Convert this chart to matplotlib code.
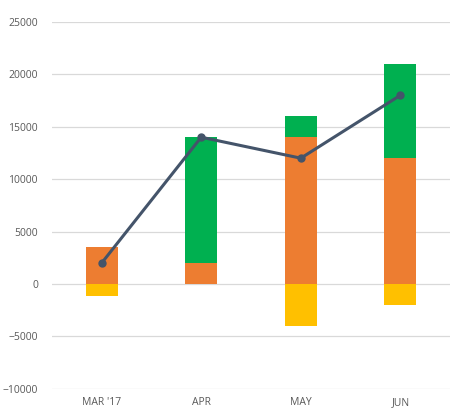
import matplotlib.pyplot as plt
import numpy as np

# data
months = ["MAR '17", "APR", "MAY", "JUN"]
base_pos = [3500, 2000, 14000, 12000]     # orange
extra_pos = [0, 12000, 2000, 9000]        # green, stacked on orange
negative = [-1100, 0, -4000, -2000]       # yellow
net = [2000, 14000, 12000, 18000]         # line

plt.rcParams['font.family'] = ['Open Sans', 'DejaVu Sans']

fig = plt.figure(figsize=(4.67, 4.12), dpi=100)
ax = fig.add_axes([0.111, 0.056, 0.853, 0.891])

x = np.arange(len(months))
w = 0.32
ax.bar(x, base_pos, w, color='#ED7D31', zorder=2)
ax.bar(x, extra_pos, w, bottom=base_pos, color='#00B050', zorder=2)
ax.bar(x, negative, w, color='#FFC000', zorder=2)
ax.plot(x, net, color='#44546A', linewidth=2.2, marker='o', markersize=5, zorder=3)

ax.set_xlim(-0.5, len(months) - 0.5)
ax.set_ylim(-10000, 25000)
ax.set_yticks(range(-10000, 25001, 5000))
ax.set_xticks(x)
ax.set_xticklabels(months)
ax.grid(axis='y', color='#D9D9D9', linewidth=0.9, zorder=0)
ax.set_axisbelow(True)
for s in ax.spines.values():
    s.set_visible(False)
ax.tick_params(length=0, labelsize=7.5, labelcolor='#595959')
ax.tick_params(axis='y', pad=10)
ax.tick_params(axis='x', pad=6)

fig.savefig('out.png', dpi=100)
